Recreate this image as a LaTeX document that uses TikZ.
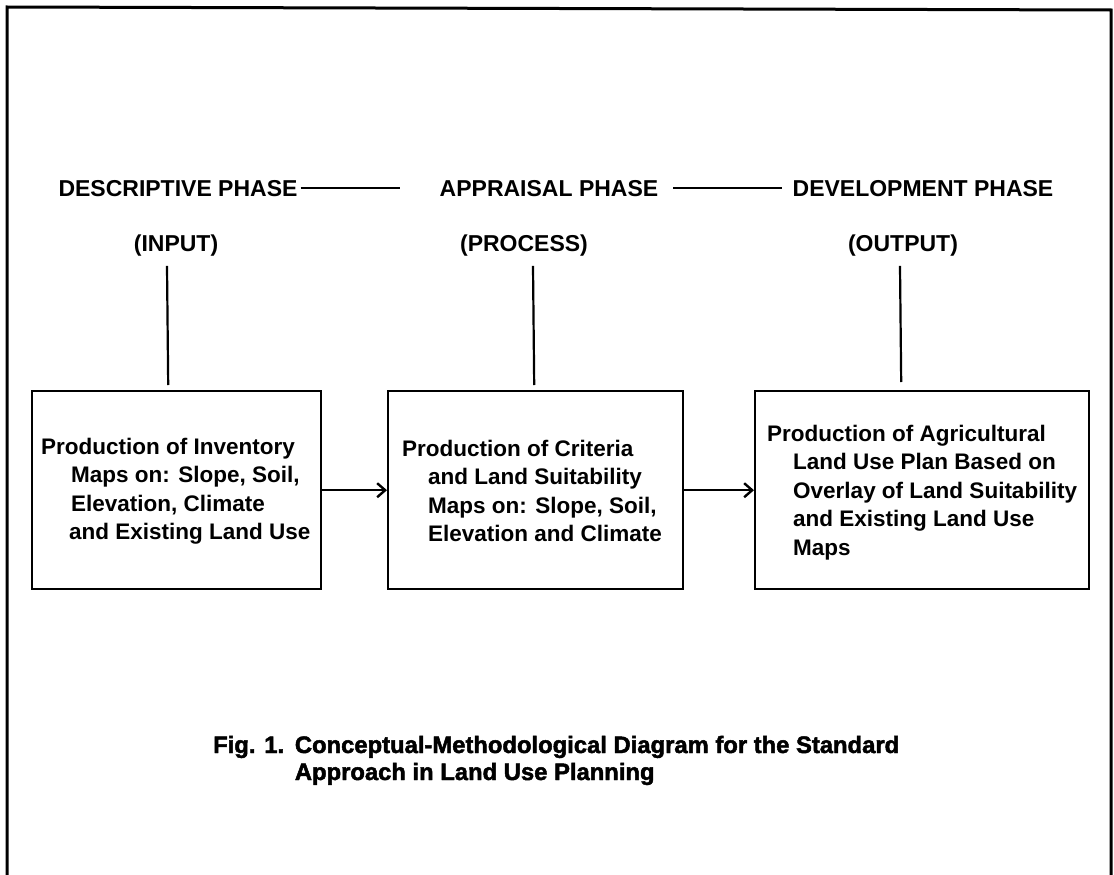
\documentclass[tikz,border=0pt]{standalone}
\usepackage{fontspec}
\setmainfont{Liberation Sans}
\newfontfamily\capfont{Liberation Sans Bold}[FakeBold=2]
\usetikzlibrary{arrows.meta,calc}
\begin{document}
\begin{tikzpicture}[x=1pt,y=-1pt,
  phase/.style={inner sep=0pt, font=\fontsize{23}{27}\selectfont\bfseries},
  stepbox/.style={draw, line width=2.4pt, minimum height=198pt, anchor=north west, inner sep=0pt},
  boxtext/.style={inner sep=0pt, anchor=west, align=left, font=\fontsize{22.5}{28.5}\selectfont\bfseries},
  captext/.style={inner sep=0pt, anchor=base west, font=\fontsize{23.8}{27}\selectfont\capfont},
  conn/.style={line width=2.2pt},
  arr/.style={line width=2.4pt, -{Straight Barb[length=8pt,width=14pt,line width=2.4pt]}},
]
\useasboundingbox (0,0) rectangle (1114,875);
% outer frame
\draw[line width=3pt] (7,875) -- (7,7) -- (1111,10) -- (1111,875);

% phase headings
\node[phase, anchor=base] (desc) at (178,196) {DESCRIPTIVE PHASE};
\node[phase, anchor=base] (appr) at (549,196) {APPRAISAL PHASE};
\node[phase, anchor=base] (dev)  at (923,196) {DEVELOPMENT PHASE};
\node[phase, anchor=base] (in)   at (176,251) {(INPUT)};
\node[phase, anchor=base] (pro)  at (524,251) {(PROCESS)};
\node[phase, anchor=base] (out)  at (903,251) {(OUTPUT)};

\draw[conn] ([xshift=3pt]desc.east) -- ([xshift=-40pt]appr.west);
\draw[conn] ([xshift=15pt]appr.east) -- ([xshift=-10pt]dev.west);

% boxes
\node[stepbox, minimum width=289pt] (b1) at (31,390) {};
\node[stepbox, minimum width=295pt] (b2) at (387,390) {};
\node[stepbox, minimum width=334pt] (b3) at (754,390) {};

\node[boxtext] (t1) at ([xshift=10pt,yshift=-1pt]b1.west) {Production of Inventory\\
\hspace*{30pt}Maps on: Slope, Soil,\\
\hspace*{30pt}Elevation, Climate\\
\hspace*{28pt}and Existing Land Use};
\node[boxtext] (t2) at ([xshift=15pt,yshift=-1pt]b2.west) {Production of Criteria\\
\hspace*{26pt}and Land Suitability\\
\hspace*{26pt}Maps on: Slope, Soil,\\
\hspace*{26pt}Elevation and Climate};
\node[boxtext] (t3) at ([xshift=13pt,yshift=-2pt]b3.west) {Production of Agricultural\\
\hspace*{26pt}Land Use Plan Based on\\
\hspace*{26pt}Overlay of Land Suitability\\
\hspace*{26pt}and Existing Land Use\\
\hspace*{26pt}Maps};

% vertical connectors
\draw[conn] ([xshift=-9pt,yshift=-10pt]in.south) -- ([xshift=-8.5pt,yshift=5pt]b1.north);
\draw[conn] ([xshift=9pt,yshift=-10pt]pro.south) -- ([xshift=-1.5pt,yshift=5pt]b2.north);
\draw[conn] ([xshift=-3pt,yshift=-10pt]out.south) -- ([xshift=-21pt,yshift=8pt]b3.north);

% arrows
\draw[arr] (b1.east) -- (b2.west);
\draw[arr] (b2.east) -- (b3.west);

% caption
\node[captext] (cap1) at (213,753) {Fig. 1.\hspace{0.45em}Conceptual-Methodological Diagram for the Standard};
\node[captext] (cap2) at (213,780) {\hphantom{Fig. 1.\hspace{0.45em}}Approach in Land Use Planning};
\end{tikzpicture}
\end{document}
